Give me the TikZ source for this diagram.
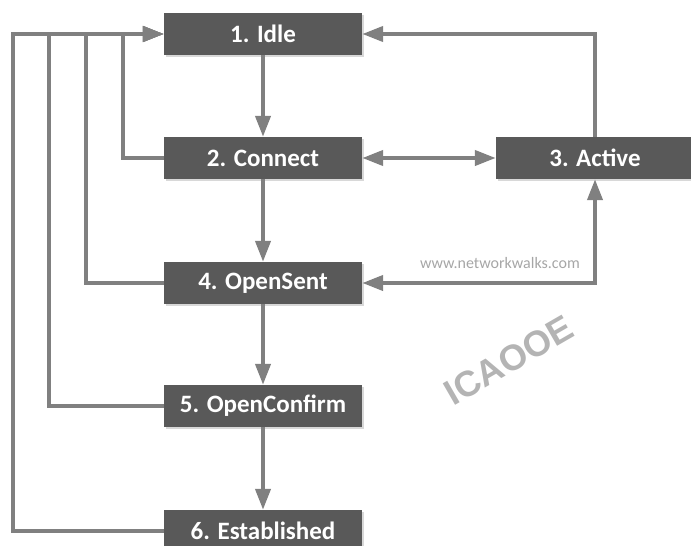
\documentclass[tikz,border=0pt]{standalone}
\usepackage{fontspec}
\setmainfont{Carlito}
\newfontfamily\markfont{Liberation Sans}
\usetikzlibrary{
    arrows.meta,
    shadows,
    positioning
}
\definecolor{boxgray}{HTML}{595959}
\definecolor{linegray}{HTML}{808080}
\definecolor{webgray}{HTML}{A6A6A6}
\definecolor{markgray}{HTML}{B4B4B4}

\begin{document}
\begin{tikzpicture}[x=1pt, y=-1pt,
        >={Triangle[length=21pt, width=15pt]},
        state/.style={fill=boxgray, text=white, inner sep=0pt,
            minimum width=198pt, minimum height=42pt,
            font=\bfseries\fontsize{25}{25}\selectfont,
            drop shadow={shadow xshift=1.5pt, shadow yshift=-1.5pt, fill=black!30, opacity=0.5}},
        link/.style={draw=linegray, line width=4pt, ->},
        twoway/.style={draw=linegray, line width=4pt, <->}
    ]
    \useasboundingbox (0, 0) rectangle (691, 546);

    % states
    \node[state] (idle) at (263, 34) {1. Idle};
    \node[state] (connect) at (263, 158) {2. Connect};
    \node[state] (active) at (595, 158) {3. Active};
    \node[state] (opensent) at (263, 283) {4. OpenSent};
    \node[state] (openconfirm) at (263, 406) {5. OpenConfirm};
    \node[state] (established) at (263, 531) {6. Established};

    % rails on the left, back to idle
    \coordinate (rail2) at (123, 34);
    \coordinate (rail4) at (86, 34);
    \coordinate (rail5) at (49, 34);
    \coordinate (rail6) at (12.5, 34);

    % main path
    \draw[link] (idle) -- (connect);
    \draw[link] (connect) -- (opensent);
    \draw[link] (opensent) -- (openconfirm);
    \draw[link] (openconfirm) -- (established);

    % back to idle
    \draw[link] (connect.west) -| (rail2) -- (idle.west);
    \draw[link] (opensent.west) -| (rail4) -- (idle.west);
    \draw[link] (openconfirm.west) -| (rail5) -- (idle.west);
    \draw[link] (established.west) -| (rail6) -- (idle.west);
    \draw[link] (active.north) |- (idle.east);

    % active
    \draw[twoway] (connect.east) -- (active.west);
    \draw[twoway] (opensent.east) -| (active.south);

    \node[font=\fontsize{16}{16}\selectfont, text=webgray] (site) at (500, 263) {www.networkwalks.com};
    \node[font=\markfont\bfseries\fontsize{36}{36}\selectfont, text=markgray, rotate=30] (mark) at (509, 360) {ICAOOE};
\end{tikzpicture}
\end{document}
